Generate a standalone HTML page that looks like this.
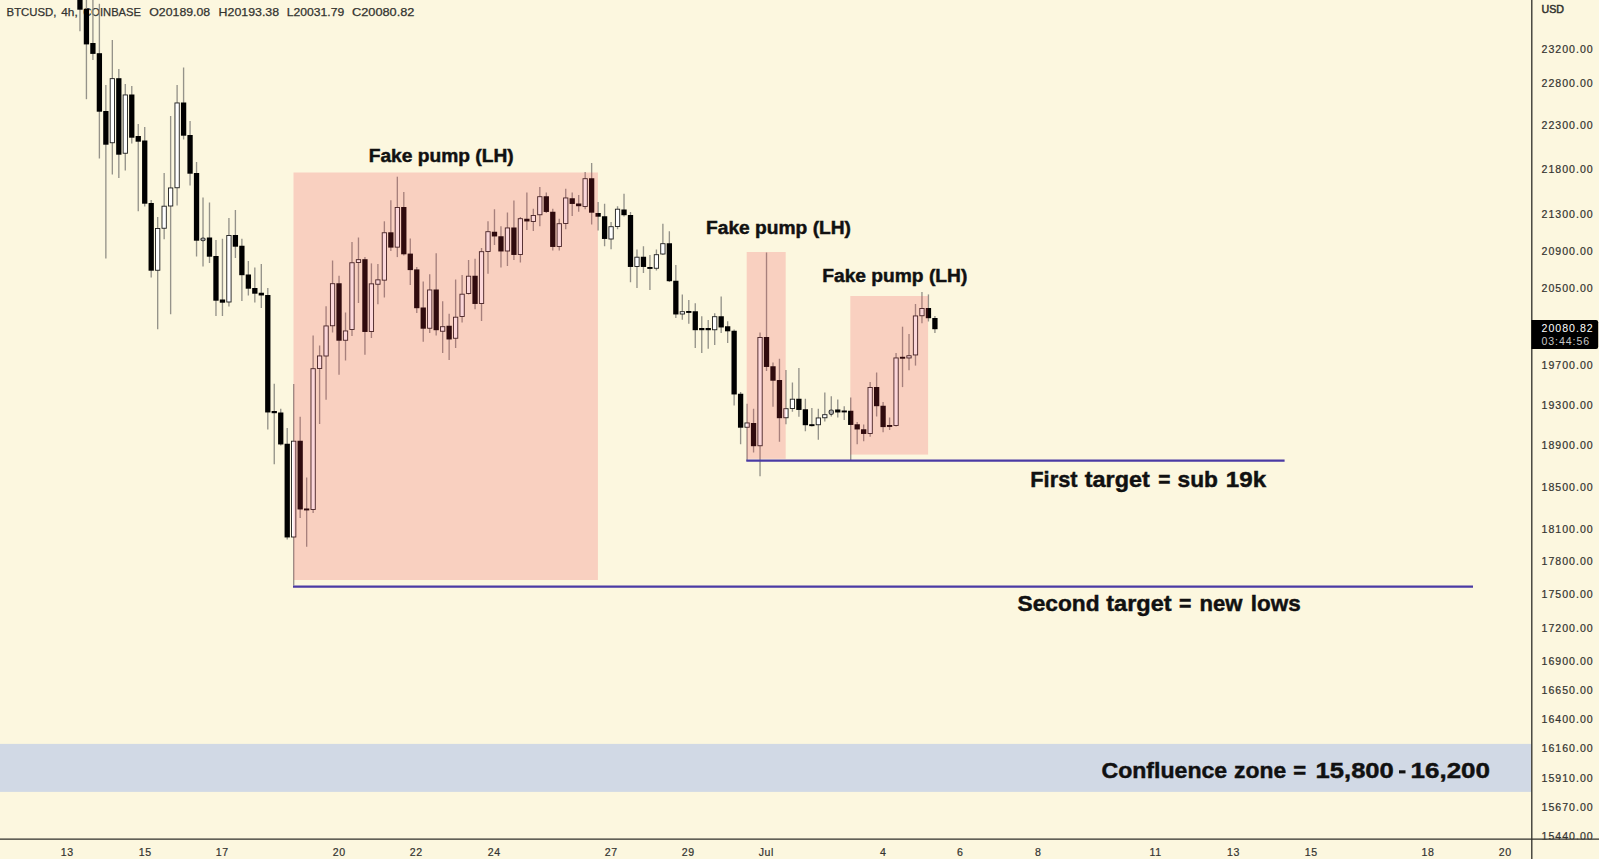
<!DOCTYPE html>
<html><head><meta charset="utf-8"><title>BTCUSD</title>
<style>
html,body{margin:0;padding:0;background:#FCF7DF;}
body{width:1599px;height:859px;overflow:hidden;font-family:"Liberation Sans",sans-serif;}
svg{display:block;}
text{font-family:"Liberation Sans",sans-serif;}
.ax text{font-size:10.6px;fill:#33332f;stroke:#33332f;stroke-width:0.2px;}
.lbl text{font-weight:bold;fill:#111;stroke:#111;stroke-width:0.45px;}
</style></head><body>
<svg width="1599" height="859" viewBox="0 0 1599 859">
<rect x="0" y="0" width="1599" height="859" fill="#FCF7DF"/>
<!-- confluence zone -->
<rect x="0" y="743.9" width="1531.5" height="48" fill="#2962FF" fill-opacity="0.2"/>
<g font-size="11.2" fill="#33332f" stroke="#33332f" stroke-width="0.25">
<text x="6.6" y="16.2" textLength="49.8" lengthAdjust="spacingAndGlyphs">BTCUSD,</text>
<text x="61.2" y="16.2" textLength="16.5" lengthAdjust="spacingAndGlyphs">4h,</text>
<text x="83.2" y="16.2" textLength="57.8" lengthAdjust="spacingAndGlyphs">COINBASE</text>
<text x="149.3" y="16.2" textLength="60.9" lengthAdjust="spacingAndGlyphs">O20189.08</text>
<text x="218.6" y="16.2" textLength="60.5" lengthAdjust="spacingAndGlyphs">H20193.38</text>
<text x="286.7" y="16.2" textLength="57.5" lengthAdjust="spacingAndGlyphs">L20031.79</text>
<text x="352" y="16.2" textLength="62.4" lengthAdjust="spacingAndGlyphs">C20080.82</text>
</g>
<!-- candles -->
<g>
<line x1="79.95" y1="-5.00" x2="79.95" y2="31.30" stroke="#95938a" stroke-width="1.35"/>
<rect x="77.30" y="-5.00" width="5.3" height="14.70" fill="#000"/>
<line x1="86.43" y1="-5.00" x2="86.43" y2="99.20" stroke="#95938a" stroke-width="1.35"/>
<rect x="83.78" y="8.80" width="5.3" height="35.60" fill="#000"/>
<line x1="92.91" y1="-5.00" x2="92.91" y2="60.00" stroke="#95938a" stroke-width="1.35"/>
<rect x="90.26" y="43.00" width="5.3" height="10.90" fill="#000"/>
<line x1="99.39" y1="3.80" x2="99.39" y2="158.50" stroke="#95938a" stroke-width="1.35"/>
<rect x="96.73" y="53.20" width="5.3" height="58.50" fill="#000"/>
<line x1="105.86" y1="85.00" x2="105.86" y2="258.50" stroke="#95938a" stroke-width="1.35"/>
<rect x="103.21" y="111.00" width="5.3" height="33.70" fill="#000"/>
<line x1="112.34" y1="40.00" x2="112.34" y2="174.50" stroke="#95938a" stroke-width="1.35"/>
<rect x="110.19" y="78.65" width="4.3" height="64.10" fill="#fff" stroke="#1c1c1c" stroke-width="0.9"/>
<line x1="118.82" y1="69.00" x2="118.82" y2="178.00" stroke="#95938a" stroke-width="1.35"/>
<rect x="116.17" y="78.20" width="5.3" height="76.50" fill="#000"/>
<line x1="125.29" y1="84.00" x2="125.29" y2="170.50" stroke="#95938a" stroke-width="1.35"/>
<rect x="123.14" y="94.95" width="4.3" height="58.30" fill="#fff" stroke="#1c1c1c" stroke-width="0.9"/>
<line x1="131.77" y1="86.00" x2="131.77" y2="143.50" stroke="#95938a" stroke-width="1.35"/>
<rect x="129.12" y="94.50" width="5.3" height="43.20" fill="#000"/>
<line x1="138.25" y1="124.00" x2="138.25" y2="211.25" stroke="#95938a" stroke-width="1.35"/>
<rect x="135.60" y="136.00" width="5.3" height="5.70" fill="#000"/>
<line x1="144.72" y1="127.00" x2="144.72" y2="206.50" stroke="#95938a" stroke-width="1.35"/>
<rect x="142.07" y="140.50" width="5.3" height="63.20" fill="#000"/>
<line x1="151.20" y1="200.00" x2="151.20" y2="277.50" stroke="#95938a" stroke-width="1.35"/>
<rect x="148.55" y="203.00" width="5.3" height="67.70" fill="#000"/>
<line x1="157.68" y1="217.00" x2="157.68" y2="329.25" stroke="#95938a" stroke-width="1.35"/>
<rect x="155.53" y="228.45" width="4.3" height="41.80" fill="#fff" stroke="#1c1c1c" stroke-width="0.9"/>
<line x1="164.16" y1="173.00" x2="164.16" y2="239.25" stroke="#95938a" stroke-width="1.35"/>
<rect x="162.00" y="206.20" width="4.3" height="22.05" fill="#fff" stroke="#1c1c1c" stroke-width="0.9"/>
<line x1="170.63" y1="116.00" x2="170.63" y2="314.25" stroke="#95938a" stroke-width="1.35"/>
<rect x="168.48" y="187.95" width="4.3" height="18.05" fill="#fff" stroke="#1c1c1c" stroke-width="0.9"/>
<line x1="177.11" y1="85.00" x2="177.11" y2="205.50" stroke="#95938a" stroke-width="1.35"/>
<rect x="174.96" y="102.95" width="4.3" height="84.80" fill="#fff" stroke="#1c1c1c" stroke-width="0.9"/>
<line x1="183.59" y1="67.50" x2="183.59" y2="139.50" stroke="#95938a" stroke-width="1.35"/>
<rect x="180.94" y="102.50" width="5.3" height="33.20" fill="#000"/>
<line x1="190.06" y1="121.00" x2="190.06" y2="185.50" stroke="#95938a" stroke-width="1.35"/>
<rect x="187.41" y="135.00" width="5.3" height="38.70" fill="#000"/>
<line x1="196.54" y1="162.00" x2="196.54" y2="256.50" stroke="#95938a" stroke-width="1.35"/>
<rect x="193.89" y="173.00" width="5.3" height="67.70" fill="#000"/>
<line x1="203.02" y1="197.50" x2="203.02" y2="266.50" stroke="#95938a" stroke-width="1.35"/>
<rect x="200.87" y="238.00" width="4.3" height="2.70" rx="1.6" fill="#aaa" stroke="#3a3a3a" stroke-width="1.1"/>
<line x1="209.49" y1="202.50" x2="209.49" y2="263.00" stroke="#95938a" stroke-width="1.35"/>
<rect x="206.84" y="237.50" width="5.3" height="19.20" fill="#000"/>
<line x1="215.97" y1="240.00" x2="215.97" y2="316.00" stroke="#95938a" stroke-width="1.35"/>
<rect x="213.32" y="256.00" width="5.3" height="44.70" fill="#000"/>
<line x1="222.45" y1="238.75" x2="222.45" y2="316.00" stroke="#95938a" stroke-width="1.35"/>
<rect x="219.80" y="299.50" width="5.3" height="3.20" fill="#000"/>
<line x1="228.93" y1="218.00" x2="228.93" y2="306.50" stroke="#95938a" stroke-width="1.35"/>
<rect x="226.78" y="235.45" width="4.3" height="66.55" fill="#fff" stroke="#1c1c1c" stroke-width="0.9"/>
<line x1="235.40" y1="210.00" x2="235.40" y2="258.00" stroke="#95938a" stroke-width="1.35"/>
<rect x="232.75" y="235.00" width="5.3" height="11.70" fill="#000"/>
<line x1="241.88" y1="238.75" x2="241.88" y2="301.00" stroke="#95938a" stroke-width="1.35"/>
<rect x="239.23" y="245.75" width="5.3" height="29.45" fill="#000"/>
<line x1="248.36" y1="261.00" x2="248.36" y2="295.50" stroke="#95938a" stroke-width="1.35"/>
<rect x="245.71" y="274.50" width="5.3" height="14.20" fill="#000"/>
<line x1="254.83" y1="267.50" x2="254.83" y2="302.50" stroke="#95938a" stroke-width="1.35"/>
<rect x="252.18" y="288.00" width="5.3" height="5.70" fill="#000"/>
<line x1="261.31" y1="264.00" x2="261.31" y2="308.00" stroke="#95938a" stroke-width="1.35"/>
<rect x="258.66" y="292.75" width="5.3" height="2.70" fill="#000"/>
<line x1="267.79" y1="288.00" x2="267.79" y2="429.50" stroke="#95938a" stroke-width="1.35"/>
<rect x="265.14" y="295.00" width="5.3" height="117.45" fill="#000"/>
<line x1="274.26" y1="383.75" x2="274.26" y2="464.25" stroke="#95938a" stroke-width="1.35"/>
<rect x="271.61" y="411.00" width="5.3" height="2.20" fill="#000"/>
<line x1="280.74" y1="408.75" x2="280.74" y2="445.50" stroke="#95938a" stroke-width="1.35"/>
<rect x="278.09" y="412.50" width="5.3" height="31.95" fill="#000"/>
<line x1="287.22" y1="428.00" x2="287.22" y2="539.50" stroke="#95938a" stroke-width="1.35"/>
<rect x="284.57" y="443.75" width="5.3" height="93.70" fill="#000"/>
<line x1="293.70" y1="384.00" x2="293.70" y2="585.50" stroke="#95938a" stroke-width="1.35"/>
<rect x="291.55" y="441.20" width="4.3" height="95.80" fill="#fff" stroke="#1c1c1c" stroke-width="0.9"/>
<line x1="300.17" y1="416.75" x2="300.17" y2="518.00" stroke="#95938a" stroke-width="1.35"/>
<rect x="297.52" y="440.75" width="5.3" height="68.70" fill="#000"/>
<line x1="306.65" y1="477.50" x2="306.65" y2="546.75" stroke="#95938a" stroke-width="1.35"/>
<rect x="304.00" y="508.50" width="5.3" height="1.90" fill="#000"/>
<line x1="313.13" y1="335.50" x2="313.13" y2="513.00" stroke="#95938a" stroke-width="1.35"/>
<rect x="310.98" y="368.70" width="4.3" height="140.80" fill="#fff" stroke="#1c1c1c" stroke-width="0.9"/>
<line x1="319.60" y1="345.50" x2="319.60" y2="424.00" stroke="#95938a" stroke-width="1.35"/>
<rect x="317.45" y="355.95" width="4.3" height="12.55" fill="#fff" stroke="#1c1c1c" stroke-width="0.9"/>
<line x1="326.08" y1="306.25" x2="326.08" y2="399.75" stroke="#95938a" stroke-width="1.35"/>
<rect x="323.93" y="325.95" width="4.3" height="30.05" fill="#fff" stroke="#1c1c1c" stroke-width="0.9"/>
<line x1="332.56" y1="260.50" x2="332.56" y2="332.50" stroke="#95938a" stroke-width="1.35"/>
<rect x="330.41" y="283.70" width="4.3" height="42.05" fill="#fff" stroke="#1c1c1c" stroke-width="0.9"/>
<line x1="339.03" y1="275.75" x2="339.03" y2="374.75" stroke="#95938a" stroke-width="1.35"/>
<rect x="336.38" y="283.25" width="5.3" height="57.45" fill="#000"/>
<line x1="345.51" y1="312.50" x2="345.51" y2="360.50" stroke="#95938a" stroke-width="1.35"/>
<rect x="343.36" y="330.95" width="4.3" height="9.30" fill="#fff" stroke="#1c1c1c" stroke-width="0.9"/>
<line x1="351.99" y1="242.00" x2="351.99" y2="336.00" stroke="#95938a" stroke-width="1.35"/>
<rect x="349.84" y="262.75" width="4.3" height="66.75" fill="#fff" stroke="#1c1c1c" stroke-width="0.9"/>
<line x1="358.47" y1="237.50" x2="358.47" y2="303.00" stroke="#95938a" stroke-width="1.35"/>
<rect x="356.32" y="259.65" width="4.3" height="2.90" fill="#fff" stroke="#1c1c1c" stroke-width="0.9"/>
<line x1="364.94" y1="257.00" x2="364.94" y2="354.75" stroke="#95938a" stroke-width="1.35"/>
<rect x="362.29" y="259.20" width="5.3" height="72.75" fill="#000"/>
<line x1="371.42" y1="263.40" x2="371.42" y2="338.00" stroke="#95938a" stroke-width="1.35"/>
<rect x="369.27" y="283.85" width="4.3" height="47.65" fill="#fff" stroke="#1c1c1c" stroke-width="0.9"/>
<line x1="377.90" y1="264.10" x2="377.90" y2="304.25" stroke="#95938a" stroke-width="1.35"/>
<rect x="375.75" y="279.85" width="4.3" height="4.40" fill="#fff" stroke="#1c1c1c" stroke-width="0.9"/>
<line x1="384.37" y1="221.30" x2="384.37" y2="297.50" stroke="#95938a" stroke-width="1.35"/>
<rect x="382.22" y="232.75" width="4.3" height="47.40" fill="#fff" stroke="#1c1c1c" stroke-width="0.9"/>
<line x1="390.85" y1="200.30" x2="390.85" y2="251.10" stroke="#95938a" stroke-width="1.35"/>
<rect x="388.20" y="232.30" width="5.3" height="15.30" fill="#000"/>
<line x1="397.33" y1="176.70" x2="397.33" y2="257.10" stroke="#95938a" stroke-width="1.35"/>
<rect x="395.18" y="207.45" width="4.3" height="39.70" fill="#fff" stroke="#1c1c1c" stroke-width="0.9"/>
<line x1="403.80" y1="192.00" x2="403.80" y2="255.50" stroke="#95938a" stroke-width="1.35"/>
<rect x="401.15" y="207.00" width="5.3" height="47.30" fill="#000"/>
<line x1="410.28" y1="238.60" x2="410.28" y2="284.90" stroke="#95938a" stroke-width="1.35"/>
<rect x="407.63" y="253.60" width="5.3" height="16.50" fill="#000"/>
<line x1="416.76" y1="267.00" x2="416.76" y2="313.00" stroke="#95938a" stroke-width="1.35"/>
<rect x="414.11" y="269.40" width="5.3" height="38.80" fill="#000"/>
<line x1="423.24" y1="281.40" x2="423.24" y2="341.75" stroke="#95938a" stroke-width="1.35"/>
<rect x="420.59" y="307.50" width="5.3" height="21.20" fill="#000"/>
<line x1="429.71" y1="274.30" x2="429.71" y2="333.00" stroke="#95938a" stroke-width="1.35"/>
<rect x="427.56" y="289.95" width="4.3" height="38.30" fill="#fff" stroke="#1c1c1c" stroke-width="0.9"/>
<line x1="436.19" y1="253.20" x2="436.19" y2="335.50" stroke="#95938a" stroke-width="1.35"/>
<rect x="433.54" y="289.50" width="5.3" height="40.70" fill="#000"/>
<line x1="442.67" y1="301.25" x2="442.67" y2="353.00" stroke="#95938a" stroke-width="1.35"/>
<rect x="440.52" y="326.70" width="4.3" height="4.55" fill="#fff" stroke="#1c1c1c" stroke-width="0.9"/>
<line x1="449.14" y1="313.75" x2="449.14" y2="360.00" stroke="#95938a" stroke-width="1.35"/>
<rect x="446.49" y="325.75" width="5.3" height="13.70" fill="#000"/>
<line x1="455.62" y1="279.50" x2="455.62" y2="348.00" stroke="#95938a" stroke-width="1.35"/>
<rect x="453.47" y="317.20" width="4.3" height="21.05" fill="#fff" stroke="#1c1c1c" stroke-width="0.9"/>
<line x1="462.10" y1="275.00" x2="462.10" y2="322.50" stroke="#95938a" stroke-width="1.35"/>
<rect x="459.95" y="294.20" width="4.3" height="22.30" fill="#fff" stroke="#1c1c1c" stroke-width="0.9"/>
<line x1="468.57" y1="260.00" x2="468.57" y2="294.50" stroke="#95938a" stroke-width="1.35"/>
<rect x="466.42" y="276.20" width="4.3" height="17.30" fill="#fff" stroke="#1c1c1c" stroke-width="0.9"/>
<line x1="475.05" y1="258.75" x2="475.05" y2="309.25" stroke="#95938a" stroke-width="1.35"/>
<rect x="472.40" y="275.75" width="5.3" height="28.20" fill="#000"/>
<line x1="481.53" y1="248.00" x2="481.53" y2="321.00" stroke="#95938a" stroke-width="1.35"/>
<rect x="479.38" y="251.70" width="4.3" height="51.80" fill="#fff" stroke="#1c1c1c" stroke-width="0.9"/>
<line x1="488.00" y1="221.25" x2="488.00" y2="273.75" stroke="#95938a" stroke-width="1.35"/>
<rect x="485.86" y="231.70" width="4.3" height="19.80" fill="#fff" stroke="#1c1c1c" stroke-width="0.9"/>
<line x1="494.48" y1="209.25" x2="494.48" y2="245.00" stroke="#95938a" stroke-width="1.35"/>
<rect x="491.83" y="231.75" width="5.3" height="4.70" fill="#000"/>
<line x1="500.96" y1="226.25" x2="500.96" y2="267.50" stroke="#95938a" stroke-width="1.35"/>
<rect x="498.31" y="236.25" width="5.3" height="15.20" fill="#000"/>
<line x1="507.44" y1="212.50" x2="507.44" y2="266.00" stroke="#95938a" stroke-width="1.35"/>
<rect x="505.29" y="227.95" width="4.3" height="23.05" fill="#fff" stroke="#1c1c1c" stroke-width="0.9"/>
<line x1="513.91" y1="200.50" x2="513.91" y2="260.00" stroke="#95938a" stroke-width="1.35"/>
<rect x="511.26" y="227.50" width="5.3" height="27.45" fill="#000"/>
<line x1="520.39" y1="217.00" x2="520.39" y2="262.50" stroke="#95938a" stroke-width="1.35"/>
<rect x="518.24" y="218.70" width="4.3" height="35.80" fill="#fff" stroke="#1c1c1c" stroke-width="0.9"/>
<line x1="526.87" y1="192.50" x2="526.87" y2="230.00" stroke="#95938a" stroke-width="1.35"/>
<rect x="524.22" y="218.75" width="5.3" height="2.70" fill="#000"/>
<line x1="533.34" y1="208.75" x2="533.34" y2="231.00" stroke="#95938a" stroke-width="1.35"/>
<rect x="531.19" y="215.45" width="4.3" height="6.05" fill="#fff" stroke="#1c1c1c" stroke-width="0.9"/>
<line x1="539.82" y1="187.00" x2="539.82" y2="226.25" stroke="#95938a" stroke-width="1.35"/>
<rect x="537.67" y="196.70" width="4.3" height="18.05" fill="#fff" stroke="#1c1c1c" stroke-width="0.9"/>
<line x1="546.30" y1="192.50" x2="546.30" y2="213.00" stroke="#95938a" stroke-width="1.35"/>
<rect x="543.65" y="196.25" width="5.3" height="15.70" fill="#000"/>
<line x1="552.78" y1="208.75" x2="552.78" y2="250.50" stroke="#95938a" stroke-width="1.35"/>
<rect x="550.13" y="211.75" width="5.3" height="35.20" fill="#000"/>
<line x1="559.25" y1="218.75" x2="559.25" y2="250.50" stroke="#95938a" stroke-width="1.35"/>
<rect x="557.10" y="223.70" width="4.3" height="22.80" fill="#fff" stroke="#1c1c1c" stroke-width="0.9"/>
<line x1="565.73" y1="188.75" x2="565.73" y2="229.25" stroke="#95938a" stroke-width="1.35"/>
<rect x="563.58" y="197.95" width="4.3" height="25.55" fill="#fff" stroke="#1c1c1c" stroke-width="0.9"/>
<line x1="572.21" y1="192.50" x2="572.21" y2="216.00" stroke="#95938a" stroke-width="1.35"/>
<rect x="569.56" y="198.25" width="5.3" height="5.70" fill="#000"/>
<line x1="578.68" y1="195.00" x2="578.68" y2="211.75" stroke="#95938a" stroke-width="1.35"/>
<rect x="576.03" y="203.50" width="5.3" height="2.70" fill="#000"/>
<line x1="585.16" y1="172.00" x2="585.16" y2="209.25" stroke="#95938a" stroke-width="1.35"/>
<rect x="583.01" y="178.70" width="4.3" height="27.80" fill="#fff" stroke="#1c1c1c" stroke-width="0.9"/>
<line x1="591.64" y1="163.00" x2="591.64" y2="224.50" stroke="#95938a" stroke-width="1.35"/>
<rect x="588.99" y="178.25" width="5.3" height="34.45" fill="#000"/>
<line x1="598.11" y1="202.00" x2="598.11" y2="230.50" stroke="#95938a" stroke-width="1.35"/>
<rect x="595.46" y="213.00" width="5.3" height="3.70" fill="#000"/>
<line x1="604.59" y1="203.75" x2="604.59" y2="246.25" stroke="#95938a" stroke-width="1.35"/>
<rect x="601.94" y="216.25" width="5.3" height="22.70" fill="#000"/>
<line x1="611.07" y1="222.00" x2="611.07" y2="249.25" stroke="#95938a" stroke-width="1.35"/>
<rect x="608.92" y="226.70" width="4.3" height="12.30" fill="#fff" stroke="#1c1c1c" stroke-width="0.9"/>
<line x1="617.55" y1="206.25" x2="617.55" y2="229.25" stroke="#95938a" stroke-width="1.35"/>
<rect x="615.40" y="209.20" width="4.3" height="17.30" fill="#fff" stroke="#1c1c1c" stroke-width="0.9"/>
<line x1="624.02" y1="193.75" x2="624.02" y2="216.50" stroke="#95938a" stroke-width="1.35"/>
<rect x="621.37" y="209.50" width="5.3" height="5.70" fill="#000"/>
<line x1="630.50" y1="212.00" x2="630.50" y2="282.25" stroke="#95938a" stroke-width="1.35"/>
<rect x="627.85" y="215.00" width="5.3" height="51.95" fill="#000"/>
<line x1="636.98" y1="249.50" x2="636.98" y2="288.00" stroke="#95938a" stroke-width="1.35"/>
<rect x="634.83" y="257.20" width="4.3" height="9.30" fill="#fff" stroke="#1c1c1c" stroke-width="0.9"/>
<line x1="643.45" y1="246.25" x2="643.45" y2="273.00" stroke="#95938a" stroke-width="1.35"/>
<rect x="640.80" y="256.75" width="5.3" height="10.20" fill="#000"/>
<line x1="649.93" y1="255.00" x2="649.93" y2="290.00" stroke="#95938a" stroke-width="1.35"/>
<rect x="647.28" y="267.00" width="5.3" height="1.90" fill="#000"/>
<line x1="656.41" y1="249.50" x2="656.41" y2="270.50" stroke="#95938a" stroke-width="1.35"/>
<rect x="654.26" y="254.70" width="4.3" height="13.55" fill="#fff" stroke="#1c1c1c" stroke-width="0.9"/>
<line x1="662.88" y1="223.75" x2="662.88" y2="255.00" stroke="#95938a" stroke-width="1.35"/>
<rect x="660.73" y="243.70" width="4.3" height="10.30" fill="#fff" stroke="#1c1c1c" stroke-width="0.9"/>
<line x1="669.36" y1="231.25" x2="669.36" y2="282.00" stroke="#95938a" stroke-width="1.35"/>
<rect x="666.71" y="243.25" width="5.3" height="37.95" fill="#000"/>
<line x1="675.84" y1="265.00" x2="675.84" y2="318.00" stroke="#95938a" stroke-width="1.35"/>
<rect x="673.19" y="280.75" width="5.3" height="33.70" fill="#000"/>
<line x1="682.32" y1="294.50" x2="682.32" y2="319.75" stroke="#95938a" stroke-width="1.35"/>
<rect x="680.17" y="311.70" width="4.3" height="2.30" fill="#fff" stroke="#1c1c1c" stroke-width="0.9"/>
<line x1="688.79" y1="300.00" x2="688.79" y2="323.75" stroke="#95938a" stroke-width="1.35"/>
<rect x="686.14" y="311.00" width="5.3" height="1.90" fill="#000"/>
<line x1="695.27" y1="303.25" x2="695.27" y2="348.00" stroke="#95938a" stroke-width="1.35"/>
<rect x="692.62" y="311.25" width="5.3" height="18.95" fill="#000"/>
<line x1="701.75" y1="316.25" x2="701.75" y2="353.00" stroke="#95938a" stroke-width="1.35"/>
<rect x="699.10" y="328.00" width="5.3" height="2.20" fill="#000"/>
<line x1="708.22" y1="320.00" x2="708.22" y2="348.75" stroke="#95938a" stroke-width="1.35"/>
<rect x="705.57" y="328.00" width="5.3" height="2.20" fill="#000"/>
<line x1="714.70" y1="313.25" x2="714.70" y2="345.00" stroke="#95938a" stroke-width="1.35"/>
<rect x="712.55" y="316.70" width="4.3" height="13.05" fill="#fff" stroke="#1c1c1c" stroke-width="0.9"/>
<line x1="721.18" y1="296.50" x2="721.18" y2="333.00" stroke="#95938a" stroke-width="1.35"/>
<rect x="718.53" y="316.25" width="5.3" height="11.20" fill="#000"/>
<line x1="727.65" y1="321.25" x2="727.65" y2="343.00" stroke="#95938a" stroke-width="1.35"/>
<rect x="725.00" y="326.25" width="5.3" height="5.05" fill="#000"/>
<line x1="734.13" y1="329.50" x2="734.13" y2="405.50" stroke="#95938a" stroke-width="1.35"/>
<rect x="731.48" y="330.75" width="5.3" height="63.70" fill="#000"/>
<line x1="740.61" y1="392.00" x2="740.61" y2="444.25" stroke="#95938a" stroke-width="1.35"/>
<rect x="737.96" y="393.75" width="5.3" height="33.95" fill="#000"/>
<line x1="747.09" y1="403.75" x2="747.09" y2="461.00" stroke="#95938a" stroke-width="1.35"/>
<rect x="744.94" y="422.95" width="4.3" height="4.30" fill="#fff" stroke="#1c1c1c" stroke-width="0.9"/>
<line x1="753.56" y1="408.75" x2="753.56" y2="452.50" stroke="#95938a" stroke-width="1.35"/>
<rect x="750.91" y="423.00" width="5.3" height="23.20" fill="#000"/>
<line x1="760.04" y1="332.50" x2="760.04" y2="476.25" stroke="#95938a" stroke-width="1.35"/>
<rect x="757.89" y="337.45" width="4.3" height="108.30" fill="#fff" stroke="#1c1c1c" stroke-width="0.9"/>
<line x1="766.52" y1="252.50" x2="766.52" y2="371.00" stroke="#95938a" stroke-width="1.35"/>
<rect x="763.87" y="337.00" width="5.3" height="29.95" fill="#000"/>
<line x1="772.99" y1="362.50" x2="772.99" y2="406.75" stroke="#95938a" stroke-width="1.35"/>
<rect x="770.34" y="366.25" width="5.3" height="14.45" fill="#000"/>
<line x1="779.47" y1="358.75" x2="779.47" y2="441.75" stroke="#95938a" stroke-width="1.35"/>
<rect x="776.82" y="380.00" width="5.3" height="38.20" fill="#000"/>
<line x1="785.95" y1="370.00" x2="785.95" y2="424.25" stroke="#95938a" stroke-width="1.35"/>
<rect x="783.80" y="408.70" width="4.3" height="9.05" fill="#fff" stroke="#1c1c1c" stroke-width="0.9"/>
<line x1="792.42" y1="382.50" x2="792.42" y2="411.75" stroke="#95938a" stroke-width="1.35"/>
<rect x="790.27" y="399.20" width="4.3" height="9.30" fill="#fff" stroke="#1c1c1c" stroke-width="0.9"/>
<line x1="798.90" y1="368.00" x2="798.90" y2="416.75" stroke="#95938a" stroke-width="1.35"/>
<rect x="796.25" y="398.75" width="5.3" height="11.20" fill="#000"/>
<line x1="805.38" y1="398.75" x2="805.38" y2="431.25" stroke="#95938a" stroke-width="1.35"/>
<rect x="802.73" y="409.25" width="5.3" height="15.95" fill="#000"/>
<line x1="811.86" y1="408.00" x2="811.86" y2="426.50" stroke="#95938a" stroke-width="1.35"/>
<rect x="809.21" y="424.20" width="5.3" height="1.90" fill="#000"/>
<line x1="818.33" y1="408.75" x2="818.33" y2="439.75" stroke="#95938a" stroke-width="1.35"/>
<rect x="816.18" y="417.95" width="4.3" height="6.80" fill="#fff" stroke="#1c1c1c" stroke-width="0.9"/>
<line x1="824.81" y1="392.50" x2="824.81" y2="421.50" stroke="#95938a" stroke-width="1.35"/>
<rect x="822.66" y="414.70" width="4.3" height="3.05" fill="#fff" stroke="#1c1c1c" stroke-width="0.9"/>
<line x1="831.29" y1="396.25" x2="831.29" y2="416.50" stroke="#95938a" stroke-width="1.35"/>
<rect x="829.14" y="410.00" width="4.3" height="4.45" rx="1.6" fill="#aaa" stroke="#3a3a3a" stroke-width="1.1"/>
<line x1="837.76" y1="399.50" x2="837.76" y2="417.50" stroke="#95938a" stroke-width="1.35"/>
<rect x="835.11" y="409.50" width="5.3" height="2.95" fill="#000"/>
<line x1="844.24" y1="406.25" x2="844.24" y2="420.00" stroke="#95938a" stroke-width="1.35"/>
<rect x="841.59" y="410.50" width="5.3" height="1.90" fill="#000"/>
<line x1="850.72" y1="397.50" x2="850.72" y2="461.00" stroke="#95938a" stroke-width="1.35"/>
<rect x="848.07" y="410.75" width="5.3" height="14.20" fill="#000"/>
<line x1="857.19" y1="422.00" x2="857.19" y2="444.25" stroke="#95938a" stroke-width="1.35"/>
<rect x="854.54" y="424.25" width="5.3" height="5.20" fill="#000"/>
<line x1="863.67" y1="424.50" x2="863.67" y2="441.25" stroke="#95938a" stroke-width="1.35"/>
<rect x="861.02" y="429.25" width="5.3" height="4.70" fill="#000"/>
<line x1="870.15" y1="382.00" x2="870.15" y2="436.75" stroke="#95938a" stroke-width="1.35"/>
<rect x="868.00" y="387.45" width="4.3" height="46.05" fill="#fff" stroke="#1c1c1c" stroke-width="0.9"/>
<line x1="876.62" y1="372.50" x2="876.62" y2="416.50" stroke="#95938a" stroke-width="1.35"/>
<rect x="873.98" y="387.00" width="5.3" height="19.20" fill="#000"/>
<line x1="883.10" y1="402.00" x2="883.10" y2="432.25" stroke="#95938a" stroke-width="1.35"/>
<rect x="880.45" y="405.75" width="5.3" height="21.35" fill="#000"/>
<line x1="889.58" y1="417.50" x2="889.58" y2="430.00" stroke="#95938a" stroke-width="1.35"/>
<rect x="886.93" y="425.00" width="5.3" height="1.90" fill="#000"/>
<line x1="896.06" y1="353.00" x2="896.06" y2="426.50" stroke="#95938a" stroke-width="1.35"/>
<rect x="893.91" y="357.95" width="4.3" height="67.50" fill="#fff" stroke="#1c1c1c" stroke-width="0.9"/>
<line x1="902.53" y1="326.70" x2="902.53" y2="387.10" stroke="#95938a" stroke-width="1.35"/>
<rect x="899.88" y="356.80" width="5.3" height="1.90" fill="#000"/>
<line x1="909.01" y1="334.10" x2="909.01" y2="370.20" stroke="#95938a" stroke-width="1.35"/>
<rect x="906.86" y="355.75" width="4.3" height="2.20" fill="#fff" stroke="#1c1c1c" stroke-width="0.9"/>
<line x1="915.49" y1="304.00" x2="915.49" y2="365.60" stroke="#95938a" stroke-width="1.35"/>
<rect x="913.34" y="315.95" width="4.3" height="39.00" fill="#fff" stroke="#1c1c1c" stroke-width="0.9"/>
<line x1="921.96" y1="292.00" x2="921.96" y2="323.20" stroke="#95938a" stroke-width="1.35"/>
<rect x="919.81" y="308.45" width="4.3" height="7.30" fill="#fff" stroke="#1c1c1c" stroke-width="0.9"/>
<line x1="928.44" y1="294.40" x2="928.44" y2="321.50" stroke="#95938a" stroke-width="1.35"/>
<rect x="925.79" y="308.00" width="5.3" height="10.20" fill="#000"/>
<line x1="934.92" y1="316.00" x2="934.92" y2="333.00" stroke="#95938a" stroke-width="1.35"/>
<rect x="932.27" y="318.00" width="5.3" height="11.20" fill="#000"/>
</g>
<!-- pink boxes -->
<rect x="293.5" y="172.5" width="304.4" height="407.5" fill="#F23645" fill-opacity="0.2"/>
<rect x="746.7" y="252" width="39" height="206.8" fill="#F23645" fill-opacity="0.2"/>
<rect x="850.3" y="296" width="77.8" height="158.6" fill="#F23645" fill-opacity="0.2"/>
<!-- blue lines -->
<line x1="746.3" y1="460.6" x2="1284.6" y2="460.6" stroke="#4A3AA4" stroke-width="2.2"/>
<line x1="293" y1="586.6" x2="1473" y2="586.6" stroke="#4A3AA4" stroke-width="2.2"/>
<!-- header -->
<g class="lbl">
<text x="368.7" y="161.5" font-size="18" textLength="145" lengthAdjust="spacingAndGlyphs">Fake pump (LH)</text>
<text x="706" y="233.5" font-size="18" textLength="145" lengthAdjust="spacingAndGlyphs">Fake pump (LH)</text>
<text x="822.3" y="282" font-size="18" textLength="145" lengthAdjust="spacingAndGlyphs">Fake pump (LH)</text>
<text x="1030.3" y="486.6" font-size="21.8" textLength="47.2" lengthAdjust="spacingAndGlyphs">First</text>
<text x="1084.7" y="486.6" font-size="21.8" textLength="65.1" lengthAdjust="spacingAndGlyphs">target</text>
<text x="1158.2" y="486.6" font-size="21.8" textLength="12.2" lengthAdjust="spacingAndGlyphs">=</text>
<text x="1177.5" y="486.6" font-size="21.8" textLength="40.4" lengthAdjust="spacingAndGlyphs">sub</text>
<text x="1225.8" y="486.6" font-size="21.8" textLength="40.3" lengthAdjust="spacingAndGlyphs">19k</text>
<text x="1017.6" y="610.5" font-size="21.8" textLength="82.0" lengthAdjust="spacingAndGlyphs">Second</text>
<text x="1106.2" y="610.5" font-size="21.8" textLength="65.5" lengthAdjust="spacingAndGlyphs">target</text>
<text x="1179.1" y="610.5" font-size="21.8" textLength="12.4" lengthAdjust="spacingAndGlyphs">=</text>
<text x="1199.5" y="610.5" font-size="21.8" textLength="43.0" lengthAdjust="spacingAndGlyphs">new</text>
<text x="1250.8" y="610.5" font-size="21.8" textLength="49.9" lengthAdjust="spacingAndGlyphs">lows</text>
<text x="1101.5" y="778.3" font-size="21.8" textLength="125.7" lengthAdjust="spacingAndGlyphs">Confluence</text>
<text x="1234.1" y="778.3" font-size="21.8" textLength="52.1" lengthAdjust="spacingAndGlyphs">zone</text>
<text x="1293.3" y="778.3" font-size="21.8" textLength="12.9" lengthAdjust="spacingAndGlyphs">=</text>
<text x="1315.6" y="778.3" font-size="21.8" textLength="78.2" lengthAdjust="spacingAndGlyphs">15,800</text>
<text x="1410.5" y="778.3" font-size="21.8" textLength="79.5" lengthAdjust="spacingAndGlyphs">16,200</text>
<rect x="1399" y="770.3" width="6.5" height="3.1" fill="#111"/>
</g>
<!-- axes -->
<rect x="1532.4" y="0" width="67" height="839" fill="#FCF7DF"/>
<g class="ax">
<text x="1541.5" y="13" font-size="10.8" style="font-size:10.6px;stroke-width:0.5px" textLength="22.5" lengthAdjust="spacingAndGlyphs">USD</text>
<text x="1541.5" y="52.8" textLength="51.2" lengthAdjust="spacing">23200.00</text>
<text x="1541.5" y="86.6" textLength="51.2" lengthAdjust="spacing">22800.00</text>
<text x="1541.5" y="128.8" textLength="51.2" lengthAdjust="spacing">22300.00</text>
<text x="1541.5" y="172.8" textLength="51.2" lengthAdjust="spacing">21800.00</text>
<text x="1541.5" y="217.8" textLength="51.2" lengthAdjust="spacing">21300.00</text>
<text x="1541.5" y="254.8" textLength="51.2" lengthAdjust="spacing">20900.00</text>
<text x="1541.5" y="292.3" textLength="51.2" lengthAdjust="spacing">20500.00</text>
<text x="1541.5" y="369.3" textLength="51.2" lengthAdjust="spacing">19700.00</text>
<text x="1541.5" y="408.8" textLength="51.2" lengthAdjust="spacing">19300.00</text>
<text x="1541.5" y="448.8" textLength="51.2" lengthAdjust="spacing">18900.00</text>
<text x="1541.5" y="490.8" textLength="51.2" lengthAdjust="spacing">18500.00</text>
<text x="1541.5" y="532.8" textLength="51.2" lengthAdjust="spacing">18100.00</text>
<text x="1541.5" y="565.3" textLength="51.2" lengthAdjust="spacing">17800.00</text>
<text x="1541.5" y="598.3" textLength="51.2" lengthAdjust="spacing">17500.00</text>
<text x="1541.5" y="631.8" textLength="51.2" lengthAdjust="spacing">17200.00</text>
<text x="1541.5" y="665.3" textLength="51.2" lengthAdjust="spacing">16900.00</text>
<text x="1541.5" y="694.3" textLength="51.2" lengthAdjust="spacing">16650.00</text>
<text x="1541.5" y="723.3" textLength="51.2" lengthAdjust="spacing">16400.00</text>
<text x="1541.5" y="752.3" textLength="51.2" lengthAdjust="spacing">16160.00</text>
<text x="1541.5" y="782.3" textLength="51.2" lengthAdjust="spacing">15910.00</text>
<text x="1541.5" y="811.3" textLength="51.2" lengthAdjust="spacing">15670.00</text>
<text x="1541.5" y="840.3" textLength="51.2" lengthAdjust="spacing">15440.00</text>
</g>
<rect x="0" y="839.5" width="1599" height="20" fill="#FCF7DF"/>
<line x1="1531.8" y1="0" x2="1531.8" y2="859" stroke="#2e2e2a" stroke-width="1.3"/>
<line x1="0" y1="839.2" x2="1599" y2="839.2" stroke="#2e2e2a" stroke-width="1.2"/>
<g class="ax">
<text x="67.3" y="856.2" text-anchor="middle" letter-spacing="0.6">13</text>
<text x="145.3" y="856.2" text-anchor="middle" letter-spacing="0.6">15</text>
<text x="222.3" y="856.2" text-anchor="middle" letter-spacing="0.6">17</text>
<text x="339.3" y="856.2" text-anchor="middle" letter-spacing="0.6">20</text>
<text x="416.3" y="856.2" text-anchor="middle" letter-spacing="0.6">22</text>
<text x="494.3" y="856.2" text-anchor="middle" letter-spacing="0.6">24</text>
<text x="611.3" y="856.2" text-anchor="middle" letter-spacing="0.6">27</text>
<text x="688.3" y="856.2" text-anchor="middle" letter-spacing="0.6">29</text>
<text x="766.3" y="856.2" text-anchor="middle" letter-spacing="0.6">Jul</text>
<text x="883.3" y="856.2" text-anchor="middle" letter-spacing="0.6">4</text>
<text x="960.3" y="856.2" text-anchor="middle" letter-spacing="0.6">6</text>
<text x="1038.3" y="856.2" text-anchor="middle" letter-spacing="0.6">8</text>
<text x="1155.6" y="856.2" text-anchor="middle" letter-spacing="0.6">11</text>
<text x="1233.6" y="856.2" text-anchor="middle" letter-spacing="0.6">13</text>
<text x="1311.3" y="856.2" text-anchor="middle" letter-spacing="0.6">15</text>
<text x="1427.8999999999999" y="856.2" text-anchor="middle" letter-spacing="0.6">18</text>
<text x="1505.3" y="856.2" text-anchor="middle" letter-spacing="0.6">20</text>
</g>
<!-- price tag -->
<path d="M1531.4 320 H1596 Q1598.2 320 1598.2 322.2 V346.7 Q1598.2 348.9 1596 348.9 H1531.4 Z" fill="#000"/>
<text x="1541.5" y="332.3" font-size="10.6" fill="#fff" textLength="51.2" lengthAdjust="spacing">20080.82</text>
<text x="1541.5" y="344.9" font-size="10.6" fill="#c4c4c4" textLength="47.6" lengthAdjust="spacing">03:44:56</text>
</svg>
</body></html>
